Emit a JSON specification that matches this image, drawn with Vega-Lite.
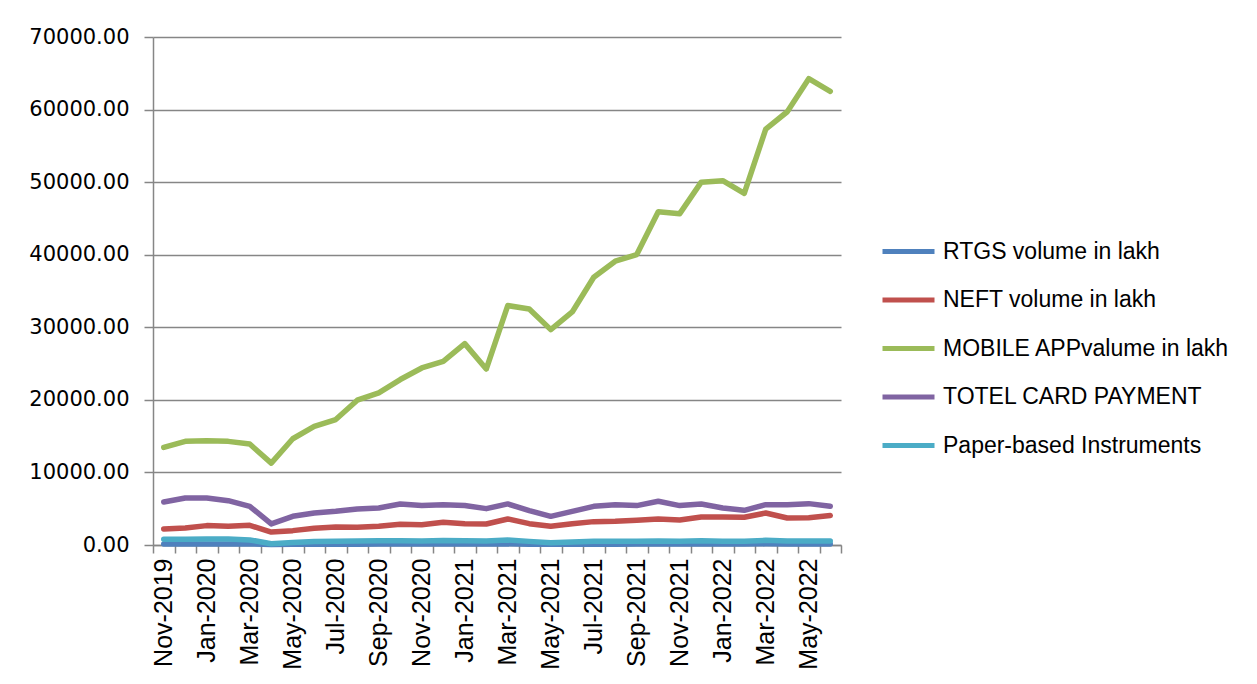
{
  "$schema": "https://vega.github.io/schema/vega-lite/v6.json",
  "autosize": {"type": "none"},
  "width": 688,
  "height": 508,
  "padding": {"left": 153, "top": 37, "right": 416, "bottom": 139},
  "background": "white",
  "config": {"view": {"stroke": null}},
  "data": {
    "values": [
      {"m": "Nov-2019", "RTGS volume in lakh": 140, "NEFT volume in lakh": 2210, "MOBILE APPvalume in lakh": 13450, "TOTEL CARD PAYMENT": 5930, "Paper-based Instruments": 780},
      {"m": "Dec-2019", "RTGS volume in lakh": 140, "NEFT volume in lakh": 2340, "MOBILE APPvalume in lakh": 14280, "TOTEL CARD PAYMENT": 6480, "Paper-based Instruments": 800},
      {"m": "Jan-2020", "RTGS volume in lakh": 150, "NEFT volume in lakh": 2670, "MOBILE APPvalume in lakh": 14370, "TOTEL CARD PAYMENT": 6480, "Paper-based Instruments": 820},
      {"m": "Feb-2020", "RTGS volume in lakh": 145, "NEFT volume in lakh": 2570, "MOBILE APPvalume in lakh": 14280, "TOTEL CARD PAYMENT": 6110, "Paper-based Instruments": 820},
      {"m": "Mar-2020", "RTGS volume in lakh": 150, "NEFT volume in lakh": 2710, "MOBILE APPvalume in lakh": 13910, "TOTEL CARD PAYMENT": 5330, "Paper-based Instruments": 700},
      {"m": "Apr-2020", "RTGS volume in lakh": 80, "NEFT volume in lakh": 1790, "MOBILE APPvalume in lakh": 11290, "TOTEL CARD PAYMENT": 2900, "Paper-based Instruments": 180},
      {"m": "May-2020", "RTGS volume in lakh": 100, "NEFT volume in lakh": 1980, "MOBILE APPvalume in lakh": 14640, "TOTEL CARD PAYMENT": 3950, "Paper-based Instruments": 350},
      {"m": "Jun-2020", "RTGS volume in lakh": 110, "NEFT volume in lakh": 2300, "MOBILE APPvalume in lakh": 16340, "TOTEL CARD PAYMENT": 4410, "Paper-based Instruments": 480},
      {"m": "Jul-2020", "RTGS volume in lakh": 120, "NEFT volume in lakh": 2480, "MOBILE APPvalume in lakh": 17290, "TOTEL CARD PAYMENT": 4640, "Paper-based Instruments": 520},
      {"m": "Aug-2020", "RTGS volume in lakh": 120, "NEFT volume in lakh": 2440, "MOBILE APPvalume in lakh": 19950, "TOTEL CARD PAYMENT": 4970, "Paper-based Instruments": 540},
      {"m": "Sep-2020", "RTGS volume in lakh": 130, "NEFT volume in lakh": 2570, "MOBILE APPvalume in lakh": 20970, "TOTEL CARD PAYMENT": 5100, "Paper-based Instruments": 580},
      {"m": "Oct-2020", "RTGS volume in lakh": 130, "NEFT volume in lakh": 2850, "MOBILE APPvalume in lakh": 22800, "TOTEL CARD PAYMENT": 5660, "Paper-based Instruments": 570},
      {"m": "Nov-2020", "RTGS volume in lakh": 125, "NEFT volume in lakh": 2800, "MOBILE APPvalume in lakh": 24390, "TOTEL CARD PAYMENT": 5430, "Paper-based Instruments": 560},
      {"m": "Dec-2020", "RTGS volume in lakh": 150, "NEFT volume in lakh": 3130, "MOBILE APPvalume in lakh": 25310, "TOTEL CARD PAYMENT": 5560, "Paper-based Instruments": 620},
      {"m": "Jan-2021", "RTGS volume in lakh": 130, "NEFT volume in lakh": 2940, "MOBILE APPvalume in lakh": 27750, "TOTEL CARD PAYMENT": 5430, "Paper-based Instruments": 600},
      {"m": "Feb-2021", "RTGS volume in lakh": 130, "NEFT volume in lakh": 2900, "MOBILE APPvalume in lakh": 24250, "TOTEL CARD PAYMENT": 5010, "Paper-based Instruments": 560},
      {"m": "Mar-2021", "RTGS volume in lakh": 160, "NEFT volume in lakh": 3590, "MOBILE APPvalume in lakh": 32990, "TOTEL CARD PAYMENT": 5660, "Paper-based Instruments": 680},
      {"m": "Apr-2021", "RTGS volume in lakh": 110, "NEFT volume in lakh": 2940, "MOBILE APPvalume in lakh": 32530, "TOTEL CARD PAYMENT": 4740, "Paper-based Instruments": 500},
      {"m": "May-2021", "RTGS volume in lakh": 90, "NEFT volume in lakh": 2570, "MOBILE APPvalume in lakh": 29680, "TOTEL CARD PAYMENT": 3950, "Paper-based Instruments": 320},
      {"m": "Jun-2021", "RTGS volume in lakh": 110, "NEFT volume in lakh": 2940, "MOBILE APPvalume in lakh": 32110, "TOTEL CARD PAYMENT": 4640, "Paper-based Instruments": 420},
      {"m": "Jul-2021", "RTGS volume in lakh": 120, "NEFT volume in lakh": 3220, "MOBILE APPvalume in lakh": 36900, "TOTEL CARD PAYMENT": 5330, "Paper-based Instruments": 500},
      {"m": "Aug-2021", "RTGS volume in lakh": 120, "NEFT volume in lakh": 3260, "MOBILE APPvalume in lakh": 39100, "TOTEL CARD PAYMENT": 5560, "Paper-based Instruments": 520},
      {"m": "Sep-2021", "RTGS volume in lakh": 130, "NEFT volume in lakh": 3400, "MOBILE APPvalume in lakh": 40020, "TOTEL CARD PAYMENT": 5430, "Paper-based Instruments": 530},
      {"m": "Oct-2021", "RTGS volume in lakh": 130, "NEFT volume in lakh": 3590, "MOBILE APPvalume in lakh": 45930, "TOTEL CARD PAYMENT": 6020, "Paper-based Instruments": 560},
      {"m": "Nov-2021", "RTGS volume in lakh": 130, "NEFT volume in lakh": 3450, "MOBILE APPvalume in lakh": 45660, "TOTEL CARD PAYMENT": 5430, "Paper-based Instruments": 520},
      {"m": "Dec-2021", "RTGS volume in lakh": 140, "NEFT volume in lakh": 3860, "MOBILE APPvalume in lakh": 50000, "TOTEL CARD PAYMENT": 5660, "Paper-based Instruments": 570},
      {"m": "Jan-2022", "RTGS volume in lakh": 130, "NEFT volume in lakh": 3860, "MOBILE APPvalume in lakh": 50200, "TOTEL CARD PAYMENT": 5100, "Paper-based Instruments": 530},
      {"m": "Feb-2022", "RTGS volume in lakh": 130, "NEFT volume in lakh": 3820, "MOBILE APPvalume in lakh": 48440, "TOTEL CARD PAYMENT": 4780, "Paper-based Instruments": 520},
      {"m": "Mar-2022", "RTGS volume in lakh": 160, "NEFT volume in lakh": 4410, "MOBILE APPvalume in lakh": 57300, "TOTEL CARD PAYMENT": 5560, "Paper-based Instruments": 640},
      {"m": "Apr-2022", "RTGS volume in lakh": 130, "NEFT volume in lakh": 3720, "MOBILE APPvalume in lakh": 59700, "TOTEL CARD PAYMENT": 5560, "Paper-based Instruments": 560},
      {"m": "May-2022", "RTGS volume in lakh": 130, "NEFT volume in lakh": 3770, "MOBILE APPvalume in lakh": 64250, "TOTEL CARD PAYMENT": 5700, "Paper-based Instruments": 540},
      {"m": "Jun-2022", "RTGS volume in lakh": 140, "NEFT volume in lakh": 4050, "MOBILE APPvalume in lakh": 62500, "TOTEL CARD PAYMENT": 5330, "Paper-based Instruments": 540}
    ]
  },
  "transform": [
    {"fold": ["RTGS volume in lakh", "NEFT volume in lakh", "MOBILE APPvalume in lakh", "TOTEL CARD PAYMENT", "Paper-based Instruments"], "as": ["series", "value"]}
  ],
  "mark": {"type": "line", "strokeWidth": 5.5, "strokeCap": "round", "strokeJoin": "round"},
  "encoding": {
    "x": {
      "field": "m",
      "type": "ordinal",
      "sort": null,
      "bandPosition": 0.5,
      "scale": {"type": "band", "paddingInner": 0, "paddingOuter": 0},
      "axis": {
        "title": null,
        "tickBand": "extent",
        "labelExpr": "test(/^(Nov|Jan|Mar|May|Jul|Sep)/, datum.label) ? datum.label : ''",
        "labelAngle": -90,
        "labelAlign": "right",
        "labelBaseline": "middle",
        "labelFont": "Liberation Sans",
        "labelFontSize": 25,
        "labelColor": "black",
        "labelPadding": 5,
        "labelOverlap": false,
        "tickSize": 8,
        "tickColor": "#868686",
        "tickWidth": 1.5,
        "domainColor": "#868686",
        "domainWidth": 1.5,
        "grid": false
      }
    },
    "y": {
      "field": "value",
      "type": "quantitative",
      "scale": {"domain": [0, 70000], "nice": false},
      "axis": {
        "title": null,
        "values": [0, 10000, 20000, 30000, 40000, 50000, 60000, 70000],
        "format": ".2f",
        "labelFont": "DejaVu Sans",
        "labelFontSize": 21,
        "labelColor": "black",
        "labelPadding": 15,
        "tickSize": 9,
        "tickColor": "#868686",
        "tickWidth": 1.5,
        "domainColor": "#868686",
        "domainWidth": 1.5,
        "grid": true,
        "gridColor": "#868686",
        "gridWidth": 1.5
      }
    },
    "color": {
      "field": "series",
      "type": "nominal",
      "sort": ["RTGS volume in lakh", "NEFT volume in lakh", "MOBILE APPvalume in lakh", "TOTEL CARD PAYMENT", "Paper-based Instruments"],
      "scale": {
        "domain": ["RTGS volume in lakh", "NEFT volume in lakh", "MOBILE APPvalume in lakh", "TOTEL CARD PAYMENT", "Paper-based Instruments"],
        "range": ["#4F81BD", "#C0504D", "#9BBB59", "#8064A2", "#4BACC6"]
      },
      "legend": {
        "title": null,
        "orient": "none",
        "legendX": 727,
        "legendY": 186,
        "padding": 0,
        "symbolType": "stroke",
        "symbolSize": 2704,
        "symbolStrokeWidth": 5,
        "labelFont": "Liberation Sans",
        "labelFontSize": 23,
        "labelColor": "black",
        "labelOffset": 6,
        "rowPadding": 7.5,
        "labelLimit": 400
      }
    }
  }
}
